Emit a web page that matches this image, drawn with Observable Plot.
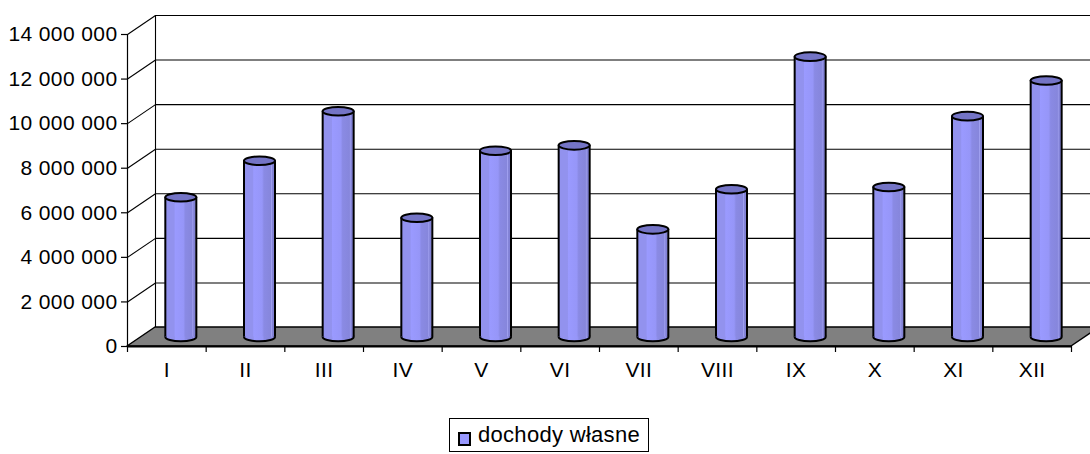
<!DOCTYPE html>
<html>
<head>
<meta charset="utf-8">
<script src="https://cdn.jsdelivr.net/npm/d3@7"></script>
<script src="https://cdn.jsdelivr.net/npm/@observablehq/plot@0.6"></script>
<style>
  html, body { margin: 0; padding: 0; background: #fff; }
  #wrap { position: relative; width: 1090px; height: 454px; font-family: "Liberation Sans", Arial, sans-serif; }
  #legend { position: absolute; left: 449px; top: 418px; width: 200px; height: 34px; border: 1px solid #000; box-sizing: border-box; background: #fff; }
  #legend .sw { position: absolute; left: 8px; top: 13px; width: 13px; height: 14px; background: #9999ff; border: 2px solid #000; box-sizing: border-box; }
  #legend .lb { position: absolute; left: 28px; top: 3px; font-size: 22px; letter-spacing: 0.3px; color: #000; white-space: nowrap; }
</style>
</head>
<body>
<div id="wrap"><div id="chart"></div><div id="legend"><div class="sw"></div><div class="lb"></div></div></div>
<script>
// ---- data ----
const months = ["I", "II", "III", "IV", "V", "VI", "VII", "VIII", "IX", "X", "XI", "XII"];
const values = [6270000, 7910000, 10130000, 5350000, 8360000, 8600000, 4830000, 6630000, 12580000, 6730000, 9910000, 11510000];
const yTicks = [0, 2000000, 4000000, 6000000, 8000000, 10000000, 12000000, 14000000];
const seriesName = "dochody własne";

// ---- layout ----
const W = 1090, H = 400, ML = 127, MR = 19, MT = 34, MB = 54;
const yMax = 14000000;
const pxX = (W - ML - MR) / months.length;
const pxY = (H - MT - MB) / yMax;
const DX = 28 / pxX, DY = 19 / pxY;       // depth of the 3-D box in data units
const HW = 15.5 / pxX;                     // cylinder half width in data units

const data = months.map((m, i) => ({m, i, v: values[i], c: i + 0.5 + DX / 2}));

const ellipse = (rx, ry) => ({
  draw(ctx) {
    const k = 0.5523;
    ctx.moveTo(rx, 0);
    ctx.bezierCurveTo(rx, k * ry, k * rx, ry, 0, ry);
    ctx.bezierCurveTo(-k * rx, ry, -rx, k * ry, -rx, 0);
    ctx.bezierCurveTo(-rx, -k * ry, -k * rx, -ry, 0, -ry);
    ctx.bezierCurveTo(k * rx, -ry, rx, -k * ry, rx, 0);
    ctx.closePath();
  }
});
const ell = ellipse(15.5, 4.3);
const fmt = d => d3.format(",")(d).replace(/,/g, " ");
const n = months.length;

const floor = [{x1: 0, y1: 0, x2: DX, y2: DY}, {x1: n, y1: 0, x2: n + DX, y2: DY}];

const chart = Plot.plot({
  width: W, height: H,
  marginLeft: ML, marginRight: MR, marginTop: MT, marginBottom: MB,
  style: {fontFamily: "Liberation Sans, Arial, sans-serif", fontSize: "21px", letterSpacing: "0.4px", color: "#000", background: "#fff", overflow: "visible"},
  x: {domain: [0, n]},
  y: {domain: [0, yMax]},
  marks: [
    // floor
    Plot.area(floor, {x1: "x1", y1: "y1", x2: "x2", y2: "y2", fill: "#808080", stroke: "#000", strokeWidth: 1.5}),
    // back wall gridlines
    Plot.ruleY(yTicks.slice(1), {y: t => t + DY, x1: DX, x2: n + DX + 2, stroke: "#000", strokeWidth: 1.1}),
    // back wall left edge
    Plot.ruleX([DX], {y1: DY, y2: yMax + DY, stroke: "#000", strokeWidth: 1.1}),
    // side wall diagonals
    Plot.link(yTicks.slice(1), {x1: 0, y1: t => t, x2: DX, y2: t => t + DY, stroke: "#000", strokeWidth: 1.1}),
    // y axis line and front floor edge
    Plot.ruleX([0], {y1: 0, y2: yMax, stroke: "#000", strokeWidth: 1.2}),
    Plot.ruleY([0], {x1: 0, x2: n, stroke: "#000", strokeWidth: 2}),
    Plot.axisY({ticks: yTicks, tickSize: 6, tickPadding: 4, tickFormat: fmt, stroke: "#000", strokeWidth: 1.2}),
    Plot.axisX({ticks: d3.range(n + 1), tickSize: 6, tickFormat: () => "", stroke: "#000", strokeWidth: 1.2}),
    Plot.axisX({ticks: months.map((m, i) => i + 0.5), tickSize: 0, tickPadding: 16, tickFormat: v => months[Math.floor(v)]}),
    // cylinders
    Plot.dot(data, {x: "c", y: () => DY / 2, symbol: ell, fill: "url(#cyl)", stroke: "#000", strokeWidth: 2}),
    Plot.rect(data, {x1: d => d.c - HW, x2: d => d.c + HW, y1: () => DY / 2, y2: d => d.v + DY / 2, fill: "url(#cyl)"}),
    Plot.ruleX(data, {x: d => d.c - HW, y1: () => DY / 2, y2: d => d.v + DY / 2, stroke: "#000", strokeWidth: 2}),
    Plot.ruleX(data, {x: d => d.c + HW, y1: () => DY / 2, y2: d => d.v + DY / 2, stroke: "#000", strokeWidth: 2}),
    Plot.dot(data, {x: "c", y: d => d.v + DY / 2, symbol: ell, fill: "#7474c6", stroke: "#000", strokeWidth: 2})
  ]
});

const svg = d3.select(chart);
const defs = svg.insert("defs", ":first-child");
const g = defs.append("linearGradient").attr("id", "cyl").attr("x1", 0).attr("x2", 1).attr("y1", 0).attr("y2", 0);
[[0, "#9292ee"], [0.3, "#9292ee"], [0.33, "#9a9aff"], [0.6, "#9696f8"], [0.66, "#8a8ae4"], [0.88, "#8686dc"], [0.9, "#a2a2f2"], [0.93, "#8484d8"], [1, "#7e7ed0"]]
  .forEach(([o, c]) => g.append("stop").attr("offset", o).attr("stop-color", c));

document.getElementById("chart").appendChild(chart);
document.querySelector("#legend .lb").textContent = seriesName;
</script>
</body>
</html>
